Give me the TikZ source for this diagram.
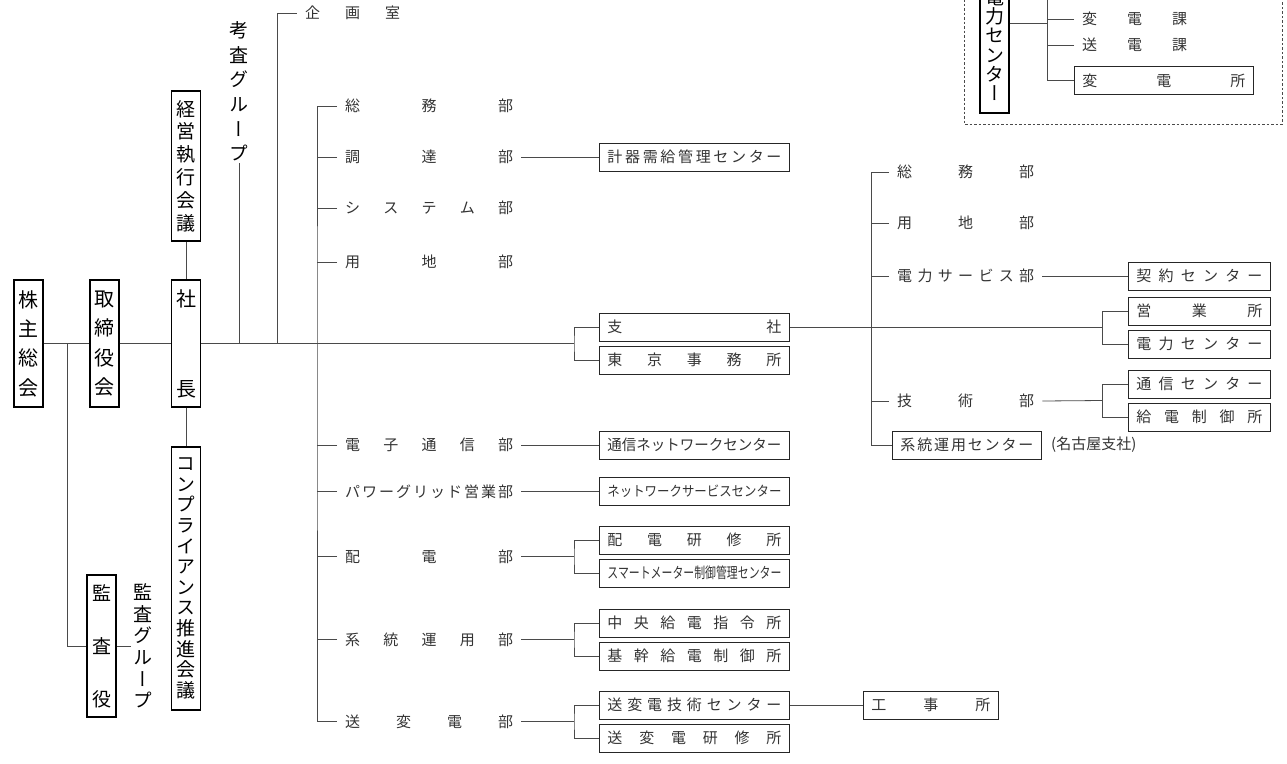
\documentclass[tikz,border=0pt]{standalone}
\usepackage{fontspec}
\usepackage{graphicx}
\usetikzlibrary{positioning, calc}
\newfontfamily\jp{Noto Sans CJK JP}
\newfontfamily\jpv[RawFeature=+vert]{Noto Sans CJK JP}
\definecolor{OrgLine}{HTML}{4A4A4A}
\definecolor{OrgText}{HTML}{333333}
\newcommand{\spr}[2]{\hbox to #1{\spaceskip=0pt plus 1fil\relax #2}}

\begin{document}
\begin{tikzpicture}[x=1pt, y=-1pt,
        conn/.style={line width=0.8pt, draw=OrgLine},
        vbox/.style={draw=black, line width=1.1pt, minimum width=29pt, inner sep=0pt, align=center, text=black},
        vtext/.style={inner sep=2pt, align=center, text=black, font=\jpv\fontsize{19}{24.6}\selectfont},
        lbl/.style={anchor=west, inner xsep=8pt, inner ysep=1pt, text=OrgText, font=\jp\fontsize{15}{15}\selectfont},
        cbox/.style={anchor=west, draw=black!85, line width=0.9pt, minimum height=28pt, inner xsep=8pt, inner ysep=0pt, text=OrgText, font=\jp\fontsize{15}{15}\selectfont}]

    \useasboundingbox (0,0) rectangle (1287,763);
    \clip (0,0) rectangle (1287,763);

    \node[vbox, minimum height=127pt, font=\jpv\fontsize{20}{29.3}\selectfont] (kabunushi) at (28.5,343.5) {株\\主\\総\\会};
    \node[vbox, minimum height=127pt, font=\jpv\fontsize{20}{29.3}\selectfont] (torishimari) at (104.5,343.5) {取\\締\\役\\会};
    \node[vbox, minimum height=127pt, font=\jpv\fontsize{20}{90}\selectfont] (shacho) at (186,343.5) {社\\長};
    \node[vbox, minimum height=150pt, font=\jpv\fontsize{19}{22.8}\selectfont] (keiei) at (186,166) {経\\営\\執\\行\\会\\議};
    \node[vbox, minimum height=263pt, font=\jpv\fontsize{19}{20.6}\selectfont] (compliance) at (186,578.5) {コ\\ン\\プ\\ラ\\イ\\ア\\ン\\ス\\推\\進\\会\\議};
    \node[vbox, minimum height=142pt, font=\jpv\fontsize{19}{53}\selectfont] (kansayaku) at (101.5,646) {監\\査\\役};
    \node[vtext, font=\jpv\fontsize{19}{21.6}\selectfont] (kansagroup) at (143,646) {監\\査\\グ\\ル\\ー\\プ};
    \node[vtext] (kosagroup) at (239,91.5) {考\\査\\グ\\ル\\ー\\プ};

    \coordinate (kansaj) at (67,343.5);
    \coordinate (kosaj) at (239,343.5);
    \coordinate (kikakuj) at (277,343.5);
    \coordinate (trunk) at (317,343.5);
    \coordinate (shishaj) at (574,343.5);

    \draw[conn] (kabunushi) -- (torishimari);
    \draw[conn] (torishimari) -- (shacho);
    \draw[conn] (keiei) -- (shacho);
    \draw[conn] (shacho) -- (compliance);
    \draw[conn] (kansaj) |- (kansayaku.west);
    \draw[conn] (kansayaku) -- (kansagroup);
    \draw[conn] (shacho) -- (shishaj);
    \draw[conn] (kosagroup) -- (kosaj);

    \node[lbl] (kikaku) at (297,13) {\spr{95pt}{企 画 室}};
    \draw[conn] (kikakuj) |- (kikaku.west);

    \node[lbl] (soumu) at (337,106) {\spr{168pt}{総 務 部}};
    \node[lbl] (chotatsu) at (337,157) {\spr{168pt}{調 達 部}};
    \node[lbl] (system) at (337,208) {\spr{168pt}{シ ス テ ム 部}};
    \node[lbl] (yochi) at (337,262) {\spr{168pt}{用 地 部}};
    \node[lbl] (denshi) at (337,445) {\spr{168pt}{電 子 通 信 部}};
    \node[lbl] (power) at (337,491.5) {\spr{168pt}{パ ワ ー グ リ ッ ド 営 業 部}};
    \node[lbl] (haiden) at (337,556.5) {\spr{168pt}{配 電 部}};
    \node[lbl] (keito) at (337,639.5) {\spr{168pt}{系 統 運 用 部}};
    \node[lbl] (sohenden) at (337,721.5) {\spr{168pt}{送 変 電 部}};

    \draw[conn] (soumu.west) -| (trunk) |- (sohenden.west);
    \foreach \d in {chotatsu, system, yochi, denshi, power, haiden, keito}
        \draw[conn] (\d.west) -- (\d.west -| trunk);

    \node[cbox] (keiki) at (599,157) {\spr{174pt}{計 器 需 給 管 理 セ ン タ ー}};
    \node[cbox] (shisha) at (599,327) {\spr{174pt}{支 社}};
    \node[cbox] (tokyo) at (599,360) {\spr{174pt}{東 京 事 務 所}};
    \node[cbox] (tsushinnw) at (599,445) {\spr{174pt}{\resizebox{174pt}{\height}{通信ネットワークセンター}}};
    \node[cbox] (nwservice) at (599,491.5) {\spr{174pt}{\resizebox{174pt}{\height}{\fontsize{14}{14}\selectfont ネットワークサービスセンター}}};
    \node[cbox] (haidenken) at (599,540) {\spr{174pt}{配 電 研 修 所}};
    \node[cbox] (smart) at (599,573) {\spr{174pt}{\resizebox{174pt}{\height}{スマートメーター制御管理センター}}};
    \node[cbox] (chuo) at (599,623) {\spr{174pt}{中 央 給 電 指 令 所}};
    \node[cbox] (kikan) at (599,656) {\spr{174pt}{基 幹 給 電 制 御 所}};
    \node[cbox] (sohengijutsu) at (599,705) {\spr{174pt}{送 変 電 技 術 セ ン タ ー}};
    \node[cbox] (sohenken) at (599,738) {\spr{174pt}{送 変 電 研 修 所}};
    \node[cbox] (koji) at (863,705) {\spr{119pt}{工 事 所}};

    \coordinate (haidenj) at (574,556.5);
    \coordinate (keitoj) at (574,639.5);
    \coordinate (sohendenj) at (574,721.5);

    \draw[conn] (chotatsu) -- (keiki);
    \draw[conn] (denshi) -- (tsushinnw);
    \draw[conn] (power) -- (nwservice);
    \draw[conn] (shisha.west) -| (shishaj) |- (tokyo.west);
    \draw[conn] (haiden.east) -- (haidenj);
    \draw[conn] (haidenken.west) -| (haidenj) |- (smart.west);
    \draw[conn] (keito.east) -- (keitoj);
    \draw[conn] (chuo.west) -| (keitoj) |- (kikan.west);
    \draw[conn] (sohenden.east) -- (sohendenj);
    \draw[conn] (sohengijutsu.west) -| (sohendenj) |- (sohenken.west);
    \draw[conn] (sohengijutsu) -- (koji);

    \node[lbl] (rsoumu) at (889,172) {\spr{137pt}{総 務 部}};
    \node[lbl] (ryochi) at (889,223) {\spr{137pt}{用 地 部}};
    \node[lbl] (rservice) at (889,276) {\spr{137pt}{電 力 サ ー ビ ス 部}};
    \node[lbl] (rgijutsu) at (889,401) {\spr{137pt}{技 術 部}};
    \node[cbox] (keitocenter) at (892,445) {\spr{133pt}{系 統 運 用 セ ン タ ー}};
    \node[lbl, inner xsep=0pt] (nagoya) at (1051,445) {(名古屋支社)};

    \node[cbox] (keiyaku) at (1128,276) {\spr{126pt}{契 約 セ ン タ ー}};
    \node[cbox] (eigyo) at (1128,311) {\spr{126pt}{営 業 所}};
    \node[cbox] (denryokuc) at (1128,344) {\spr{126pt}{電 力 セ ン タ ー}};
    \node[cbox] (tsushinc) at (1128,384) {\spr{126pt}{通 信 セ ン タ ー}};
    \node[cbox] (kyuden) at (1128,417) {\spr{126pt}{給 電 制 御 所}};

    \coordinate (rtrunk) at (871,327);
    \coordinate (eigyoj) at (1102,327);
    \coordinate (gijutsuj) at (1102,400.5);

    \draw[conn] (shisha.east) -- (eigyoj);
    \draw[conn] (eigyo.west) -| (eigyoj) |- (denryokuc.west);
    \draw[conn] (rsoumu.west) -| (rtrunk) |- (keitocenter.west);
    \foreach \d in {ryochi, rservice, rgijutsu}
        \draw[conn] (\d.west) -- (\d.west -| rtrunk);
    \draw[conn] (rservice) -- (keiyaku);
    \draw[conn] (rgijutsu.east) -- (gijutsuj);
    \draw[conn] (tsushinc.west) -| (gijutsuj) |- (kyuden.west);

    \draw[conn, dash pattern=on 2.5pt off 2pt] (964,-10) rectangle (1282,124);
    \node[vbox, minimum height=136pt, font=\jpv\fontsize{19}{19.3}\selectfont] (denryokuv) at (994.5,45) {電\\力\\セ\\ン\\タ\\ー};
    \node[lbl] (henka) at (1074,19) {\spr{105pt}{変 電 課}};
    \node[lbl] (souka) at (1074,45) {\spr{105pt}{送 電 課}};
    \node[cbox] (henshojo) at (1074,80.5) {\spr{163pt}{変 電 所}};

    \coordinate (hensoj) at (1047,23);
    \coordinate (hensotop) at (1047,-20);
    \draw[conn] (denryokuv.east |- hensoj) -- (hensoj);
    \draw[conn] (hensotop) |- (henshojo.west);
    \foreach \d in {henka, souka}
        \draw[conn] (\d.west) -- (\d.west -| hensotop);
\end{tikzpicture}
\end{document}
